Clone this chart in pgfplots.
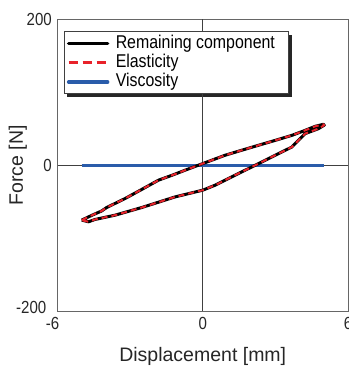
\documentclass[border=0pt]{standalone}
\usepackage{pgfplots}
\pgfplotsset{compat=1.18}
\usepackage{pgfplotstable}
\usepackage{fontspec}
\setmainfont{Liberation Sans}
\newfontfamily\condfont[FakeStretch=0.86]{Liberation Sans}
\usetikzlibrary{backgrounds}
\definecolor{cred}{RGB}{232,34,42}
\definecolor{cblue}{RGB}{42,92,170}
\pgfplotstableread{
x y
-5.00 -75.3
-4.60 -69.0
-4.17 -62.6
-3.97 -58.0
-3.21 -45.7
-2.50 -32.8
-1.83 -20.5
-1.25 -13.5
-0.73 -6.8
0.00 2.3
0.92 13.7
1.60 20.5
2.30 27.4
3.00 34.2
3.68 41.0
4.20 47.5
4.64 53.4
4.98 56.2
5.02 55.0
4.78 50.2
4.23 43.4
3.68 25.0
2.99 13.7
2.23 1.0
1.33 -13.7
0.51 -27.4
0.00 -34.2
-1.14 -43.4
-2.52 -58.0
-3.62 -68.5
-4.45 -74.4
-4.72 -77.6
-5.00 -75.3
}\loopdata
\pgfplotstableread{
x y
-5.0 0
5.02 0
}\viscdata
\begin{document}
\begin{tikzpicture}
\begin{axis}[
  at={(0,0)}, anchor=south west,
  scale only axis, width=290.5bp, height=291.5bp,
  xmin=-6, xmax=6, ymin=-200, ymax=200,
  xtick={-6,0,6}, xticklabels={-6\rule{10bp}{0pt},0,6},
  ytick={-200,0,200}, yticklabels={\raisebox{6.5bp}{-200}\rule{5.5bp}{0pt},0,200},
  major tick length=0pt,
  axis line style={black!60, line width=1bp},
  tick label style={font=\condfont\fontsize{17.5bp}{20bp}\selectfont, text=black!85},
  xticklabel style={anchor=north, inner sep=0pt, yshift=-6bp},
  yticklabel style={anchor=east, inner sep=0pt, xshift=-5.5bp},
  xlabel={Displacement [mm]}, ylabel={Force [N]},
  label style={font=\fontsize{19.5bp}{22bp}\selectfont, text=black!85, inner sep=0pt},
  xlabel style={at={(axis description cs:0.5,0)}, anchor=base, yshift=-50.6bp},
  ylabel style={at={([xshift=-34.5bp]axis description cs:0,0.5)}, anchor=base},
  legend cell align=left,
  legend style={name=leg, at={(0,1)}, anchor=north west, xshift=6bp, yshift=-12bp,
    draw=black!75, line width=0.8bp, fill=white,
    font=\condfont\fontsize{18.5bp}{19bp}\selectfont,
    inner xsep=3bp, inner ysep=2bp, row sep=0pt, column sep=3bp,
    nodes={inner sep=1.5bp, text height=12.6bp, text depth=3.6bp}},
]
\addplot[black!75, line width=0.9bp, forget plot] coordinates {(0,-200) (0,200)};
\addplot[black!75, line width=0.9bp, forget plot] coordinates {(-6,0) (6,0)};
\addplot[cblue, line width=3bp, forget plot] table {\viscdata};
\addplot[black, line width=3bp, line join=round,
  legend image code/.code={\draw[black, line width=3.5bp, line cap=round] (1bp,0bp) -- (40bp,0bp);}] table {\loopdata};
\addlegendentry{Remaining component\rule{9bp}{0pt}}
\addplot[cred, line width=2bp, dash pattern=on 6bp off 4bp, line join=round,
  legend image code/.code={\draw[cred, line width=3.2bp, dash pattern=on 9bp off 5bp] (1bp,0bp) -- (42bp,0bp);}] table {\loopdata};
\addlegendentry{Elasticity}
\addlegendimage{legend image code/.code={\draw[cblue, line width=3.5bp, line cap=round] (1bp,0bp) -- (40bp,0bp);}}
\addlegendentry{Viscosity}
\end{axis}
\begin{scope}[on background layer]
\fill[black!85] ([xshift=3.5bp,yshift=-3.5bp]leg.south west) rectangle ([xshift=3.5bp,yshift=-3.5bp]leg.north east);
\end{scope}
\pgfresetboundingbox
\useasboundingbox (-57.5bp,-56bp) rectangle (291.5bp,311bp);
\end{tikzpicture}
\end{document}
